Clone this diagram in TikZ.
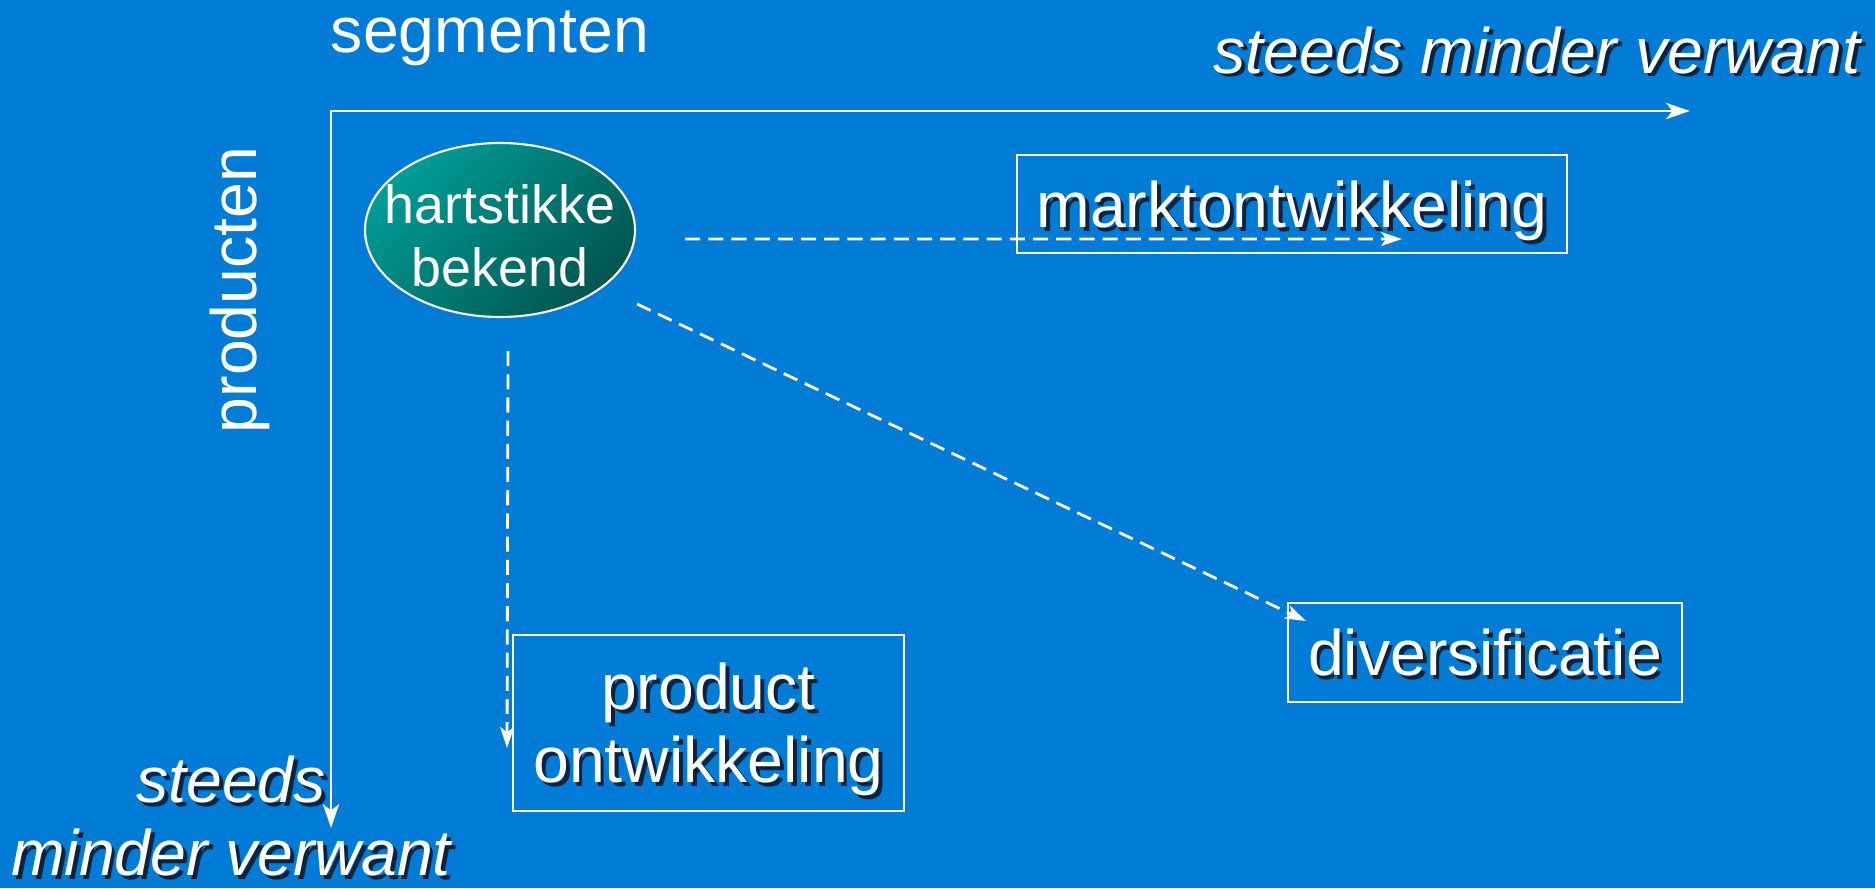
\documentclass[tikz,border=0pt]{standalone}
\usepackage{fontspec}
\setmainfont{Liberation Sans}
\usetikzlibrary{arrows.meta,shapes.geometric}
\definecolor{slide-blue}{HTML}{007BD6}
\definecolor{teal-light}{HTML}{009C97}
\definecolor{teal-dark}{HTML}{00564F}
\definecolor{shadow-dark}{HTML}{0A2440}
\newcommand{\bigtxt}{\fontsize{18.3}{20.7}\selectfont}
\newcommand{\shd}[1]{\leavevmode\rlap{\kern1.1pt\raisebox{-1.1pt}{\textcolor{shadow-dark}{#1}}}#1}

\begin{document}
\begin{tikzpicture}[every node/.style={text=white, font=\bigtxt},
    box/.style={draw=white, line width=0.55pt, inner sep=0pt, text depth=0pt},
    axis/.style={draw=white, line width=0.85pt,
      {Stealth[length=6.8pt,width=4.6pt,inset=1.8pt]}-{Stealth[length=6.8pt,width=4.6pt,inset=1.8pt]}},
    move/.style={draw=white, line width=0.8pt, dash pattern=on 4.3pt off 2.3pt,
      -{Stealth[length=6pt,width=4pt,inset=1.5pt]}}]
    \fill[slide-blue] (0,0) rectangle (18.75,8.88);
    \useasboundingbox (0,0) rectangle (18.75,8.88);

    % axes
    \coordinate (origin) at (3.31,7.77);
    \coordinate (seg-end) at (16.90,7.77);
    \coordinate (prod-end) at (3.31,0.60);
    \draw[axis] (prod-end) -- (origin) -- (seg-end);
    \node[anchor=base] (seg) at (4.90,8.36) {segmenten};
    \node[anchor=base, rotate=90] (prod) at (2.56,5.98) {producten};
    \node[anchor=base, font=\bigtxt\itshape] (far-x) at (15.37,8.15)
      {\shd{steeds minder verwant}};
    \node[align=center, inner sep=0pt, font=\bigtxt\itshape] (far-y) at (2.31,0.70)
      {\shd{steeds}\\\shd{minder verwant}};

    % start and the three directions
    \node[ellipse, draw=white, line width=0.6pt, top color=teal-light,
      bottom color=teal-dark, shading angle=45, minimum width=2.70cm,
      minimum height=1.74cm, inner sep=0pt, align=center, text height=32pt,
      text depth=0pt, font=\fontsize{15.3}{17.9}\selectfont] (hb) at (5.00,6.58)
      {\makebox[0pt]{hartstikke}\\\makebox[0pt]{bekend}};
    \node[box, minimum width=5.50cm, minimum height=0.98cm] (mo) at (12.92,6.84)
      {\shd{marktontwikkeling}};
    \node[box, minimum width=3.91cm, minimum height=1.76cm, align=center] (pd)
      at (7.085,1.65) {\shd{product}\\\shd{ontwikkeling}};
    \node[box, minimum width=3.94cm, minimum height=0.99cm] (dv) at (14.85,2.355)
      {\shd{diversificatie}};

    \draw[move] ([shift={(0.49,-0.09)}]hb.east) -- ([shift={(1.10,-0.35)}]mo.center);
    \draw[move] ([shift={(0.01,-0.74)}]hb.east) -- ([shift={(0.19,-0.19)}]dv.north west);
    \draw[move] ([shift={(0.08,-0.33)}]hb.south) -- ([shift={(-0.05,-0.25)}]pd.west);
  \end{tikzpicture}
\end{document}
